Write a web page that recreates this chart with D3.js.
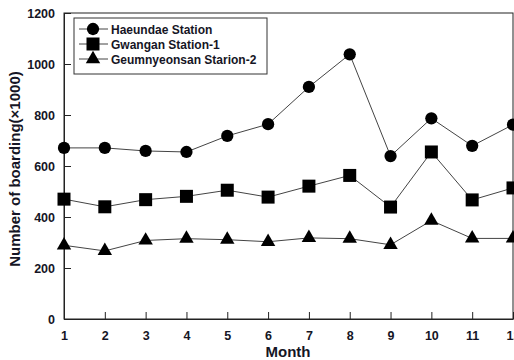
<!DOCTYPE html>
<html>
<head>
<meta charset="utf-8">
<script src="https://cdn.jsdelivr.net/npm/d3@7"></script>
<style>
  body { margin: 0; background: #fff; }
  svg { display: block; font-family: Arial, "Liberation Sans", sans-serif; }
</style>
</head>
<body>
<svg id="chart" width="514" height="360"></svg>
<script>
// Monthly boarding counts (thousands)
const months = [1, 2, 3, 4, 5, 6, 7, 8, 9, 10, 11, 12];
const haeundae = [671, 671, 659, 655, 718, 764, 910, 1038, 639, 787, 679, 762];
const gwangan = [470, 440, 468, 481, 505, 478, 521, 563, 439, 655, 467, 514];
const geumnyeonsan = [289, 267, 308, 315, 311, 303, 318, 315, 291, 386, 316, 316];
const seriesNames = ["Haeundae Station", "Gwangan Station-1", "Geumnyeonsan Starion-2"];
const yTicks = [0, 200, 400, 600, 800, 1000, 1200];

const svg = d3.select("#chart");
const plotL = 64, plotR = 513, plotT = 13, plotB = 319;
const x = d3.scaleLinear().domain([1, 12]).range([plotL, plotR]);
const y = d3.scaleLinear().domain([0, 1200]).range([plotB, plotT]);
const textColor = "#151525";

// frame
svg.append("rect").attr("x", plotL).attr("y", plotT)
  .attr("width", plotR - plotL).attr("height", plotB - plotT)
  .attr("fill", "none").attr("stroke", "#222").attr("stroke-width", 1);

// axes with inward ticks
const xAxis = svg.append("g").attr("transform", `translate(0,${plotB})`)
  .call(d3.axisBottom(x).tickValues(months).tickFormat(d3.format("d"))
    .tickSizeInner(-7).tickSizeOuter(0).tickPadding(12));
const yAxis = svg.append("g").attr("transform", `translate(${plotL},0)`)
  .call(d3.axisLeft(y).tickValues(yTicks).tickFormat(d3.format("d"))
    .tickSizeInner(-7).tickSizeOuter(0).tickPadding(9));
[xAxis, yAxis].forEach(g => {
  g.select(".domain").attr("stroke", "#222");
  g.selectAll(".tick line").attr("stroke", "#222");
  g.selectAll(".tick text").attr("fill", textColor)
    .style("font-size", "12.5px").style("font-weight", "bold")
    .style("font-family", "Arial, 'Liberation Sans', sans-serif");
});

// axis titles
svg.append("text").attr("x", 288).attr("y", 357).attr("text-anchor", "middle")
  .attr("fill", textColor).style("font-size", "15px").style("font-weight", "bold")
  .text("Month");
svg.append("text").attr("transform", "translate(20,169) rotate(-90)")
  .attr("text-anchor", "middle").attr("fill", textColor)
  .style("font-size", "15px").style("font-weight", "bold")
  .text("Number of boarding(×1000)");

const line = d3.line().x((d, i) => x(months[i])).y(d => y(d));
const allSeries = [haeundae, gwangan, geumnyeonsan];
const symbols = [d3.symbolCircle, d3.symbolSquare, d3.symbolTriangle];
const symSizes = [118, 169, 90];

allSeries.forEach((vals, s) => {
  svg.append("path").datum(vals).attr("d", line)
    .attr("fill", "none").attr("stroke", "#444").attr("stroke-width", 1);
  svg.selectAll(null).data(vals).enter().append("path")
    .attr("transform", (d, i) => `translate(${x(months[i])},${y(d)})`)
    .attr("d", d3.symbol().type(symbols[s]).size(symSizes[s]))
    .attr("fill", "#000");
});

// legend
const lg = svg.append("g");
lg.append("rect").attr("x", 74).attr("y", 18).attr("width", 193).attr("height", 56)
  .attr("fill", "#fff").attr("stroke", "#333").attr("stroke-width", 1);
seriesNames.forEach((name, s) => {
  const ly = 29 + s * 15;
  lg.append("line").attr("x1", 79).attr("x2", 108).attr("y1", ly).attr("y2", ly)
    .attr("stroke", "#444").attr("stroke-width", 1);
  lg.append("path").attr("transform", `translate(93,${ly})`)
    .attr("d", d3.symbol().type(symbols[s]).size(symSizes[s])).attr("fill", "#000");
  lg.append("text").attr("x", 111).attr("y", ly + 4.5).attr("fill", textColor)
    .style("font-size", "12px").style("font-weight", "bold").text(name);
});
</script>
</body>
</html>
